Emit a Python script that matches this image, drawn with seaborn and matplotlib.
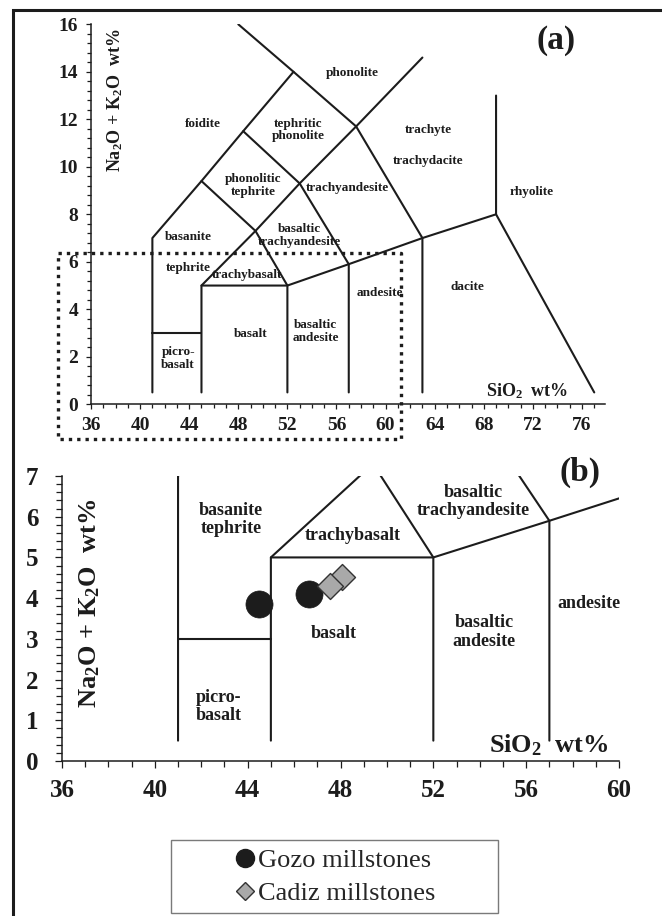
import matplotlib
matplotlib.use("Agg")
import matplotlib.pyplot as plt
import seaborn as sns
import pandas as pd
from matplotlib.lines import Line2D
from matplotlib.patches import Rectangle
from matplotlib.ticker import MultipleLocator

# ---------------- data ----------------
gozo_sio2 = [44.5, 46.65]
gozo_alk = [3.85, 4.10]
cadiz_sio2 = [48.05, 47.55]
cadiz_alk = [4.52, 4.30]
group_names = ["Gozo millstones", "Cadiz millstones"]

xticks_a = [36, 40, 44, 48, 52, 56, 60, 64, 68, 72, 76]
yticks_a = [0, 2, 4, 6, 8, 10, 12, 14, 16]
xticks_b = [36, 40, 44, 48, 52, 56, 60]
yticks_b = [0, 1, 2, 3, 4, 5, 6, 7]

# TAS field boundaries (SiO2, Na2O+K2O)
bound_A = [(41, 0.5), (41, 7), (45, 9.4), (48.4, 11.5), (52.5, 14)]
bound_B = [(48, 16), (52.5, 14), (57.6, 11.7), (63, 7), (63, 0.5)]
bound_C = [(45, 0.5), (45, 5), (49.4, 7.3), (53, 9.3), (57.6, 11.7), (63, 14.6)]
bound_D = [(45, 9.4), (49.4, 7.3), (52, 5), (52, 0.5)]
bound_E = [(48.4, 11.5), (53, 9.3), (57, 5.9), (57, 0.5)]
bound_F = [(41, 3), (45, 3)]
bound_G = [(45, 5), (52, 5), (57, 5.9), (63, 7), (69, 8), (69, 13)]
bound_H = [(69, 8), (77, 0.5)]
boundaries = [bound_A, bound_B, bound_C, bound_D, bound_E, bound_F, bound_G, bound_H]

# field names, panel (a)
names_a = ["foidite", "phonolite", "tephritic\nphonolite", "phonolitic\ntephrite",
           "trachyandesite", "trachyte", "trachydacite", "rhyolite",
           "basaltic\ntrachyandesite", "basanite", "tephrite", "trachybasalt",
           "basalt", "picro-\nbasalt", "basaltic\nandesite", "andesite", "dacite"]
names_a_x = [45.1, 57.3, 52.9, 49.2, 56.9, 63.5, 63.5, 71.9, 53.0, 43.9, 43.9, 48.7,
             49.0, 43.1, 54.3, 59.5, 66.7]
names_a_y = [11.8, 13.95, 11.55, 9.2, 9.1, 11.55, 10.25, 8.95, 7.12, 7.03, 5.75, 5.44,
             2.96, 1.94, 3.06, 4.67, 4.93]

# field names, panel (b)
names_b = ["basanite\ntephrite", "trachybasalt", "basaltic\ntrachyandesite", "basalt",
           "picro-\nbasalt", "basaltic\nandesite", "andesite"]
names_b_x = [43.28, 48.54, 53.73, 47.7, 42.74, 54.2, 58.69]
names_b_y = [5.93, 5.54, 6.38, 3.13, 1.33, 3.17, 3.87]

# ---------------- style ----------------
sns.set_theme(style="ticks")
plt.rcParams["font.family"] = ["Liberation Serif", "DejaVu Serif"]
plt.rcParams["font.weight"] = "bold"
plt.rcParams["mathtext.fontset"] = "custom"
plt.rcParams["mathtext.rm"] = "Liberation Serif:bold"
plt.rcParams["mathtext.it"] = "Liberation Serif:bold"
plt.rcParams["mathtext.bf"] = "Liberation Serif:bold"
plt.rcParams["mathtext.default"] = "rm"

INK = "#1c1c1c"
LW = 1.5

fig = plt.figure(figsize=(6.62, 9.16), dpi=100)
W, H = 662, 916
ax_a = fig.add_axes([91 / W, 1 - 404.3 / H, (605.3 - 91) / W, 380 / H])
ax_b = fig.add_axes([62 / W, 1 - 761 / H, 557 / W, 285 / H])


def draw_boundaries(ax):
    for poly in boundaries:
        df = pd.DataFrame(poly, columns=["sio2", "alk"])
        sns.lineplot(data=df, x="sio2", y="alk", sort=False, estimator=None,
                     color=INK, linewidth=LW, ax=ax, legend=False)


def style_axes(ax, xticks, yticks, xminor, yminor, fs, xpad, ypad, ticklen):
    ax.set_xticks(xticks)
    ax.set_yticks(yticks)
    ax.xaxis.set_minor_locator(MultipleLocator(xminor))
    ax.yaxis.set_minor_locator(MultipleLocator(yminor))
    for sp in ["top", "right"]:
        ax.spines[sp].set_visible(False)
    for sp in ["left", "bottom"]:
        ax.spines[sp].set_color(INK)
        ax.spines[sp].set_linewidth(1.1)
    ax.tick_params(axis="both", which="both", direction="out", color=INK, width=0.9)
    ax.tick_params(axis="both", which="major", length=ticklen)
    ax.tick_params(axis="both", which="minor", length=ticklen * 0.8)
    ax.tick_params(axis="x", which="major", labelsize=fs, pad=xpad)
    ax.tick_params(axis="y", which="major", labelsize=fs, pad=ypad)
    for lab in ax.get_xticklabels() + ax.get_yticklabels():
        lab.set_fontweight("bold")
        lab.set_color(INK)
    ax.set_xlabel("")
    ax.set_ylabel("")
    ax.set_facecolor("white")


# ---------- panel (a) ----------
draw_boundaries(ax_a)
ax_a.set_xlim(36, 77.9)
ax_a.set_ylim(0, 16)
style_axes(ax_a, xticks_a, yticks_a, 1, 0.4, 14, 5, 5.5, 3.8)
for t, x, y in zip(names_a, names_a_x, names_a_y):
    ax_a.text(x, y, t, ha="center", va="center", fontsize=9.5, fontweight="bold",
              color=INK, linespacing=1.1)
ax_a.text(74.9, 0.32, "SiO$_2$  wt%", ha="right", va="baseline", fontsize=13,
          fontweight="bold", color=INK)
ax_a.text(73.9, 15.3, "(a)", ha="center", va="center", fontsize=24,
          fontweight="bold", color=INK)
# dotted zoom frame
frame_x = [33.34, 61.24, 61.24, 33.34, 33.34]
frame_y = [6.38, 6.38, -1.47, -1.47, 6.38]
ax_a.plot(frame_x, frame_y, color=INK, linewidth=2.4, linestyle=(0, (1.0, 1.5)),
          dash_capstyle="butt", clip_on=False, zorder=5)
fig.text(115 / W, 1 - 100 / H, "Na$_2$O + K$_2$O  wt%", rotation=90, ha="center",
         va="center", fontsize=13, fontweight="bold", color=INK)

# ---------- panel (b) ----------
draw_boundaries(ax_b)
ax_b.set_xlim(36, 60)
ax_b.set_ylim(0, 7)
style_axes(ax_b, xticks_b, yticks_b, 1, 0.2, 18, 8, 12, 5)
for t, x, y in zip(names_b, names_b_x, names_b_y):
    ax_b.text(x, y, t, ha="center", va="center", fontsize=13, fontweight="bold",
              color=INK, linespacing=1.1)
ax_b.text(59.53, 0.2, "SiO$_2$  wt%", ha="right", va="baseline", fontsize=19,
          fontweight="bold", color=INK)
ax_b.text(58.3, 7.1, "(b)", ha="center", va="center", fontsize=24,
          fontweight="bold", color=INK, clip_on=False)
fig.text(90 / W, 1 - 603 / H, "Na$_2$O + K$_2$O  wt%", rotation=90, ha="center",
         va="center", fontsize=19, fontweight="bold", color=INK)

sns.scatterplot(x=gozo_sio2, y=gozo_alk, marker="o", s=380, color=INK,
                edgecolor=INK, linewidth=0.5, ax=ax_b, zorder=6, legend=False)
sns.scatterplot(x=cadiz_sio2, y=cadiz_alk, marker="D", s=175, color="#a9a9a9",
                edgecolor="#333333", linewidth=1.0, ax=ax_b, zorder=7, legend=False)
ax_b.set_xlabel("")
ax_b.set_ylabel("")

# ---------- legend ----------
handles = [
    Line2D([], [], marker="o", linestyle="none", markersize=13, markerfacecolor=INK,
           markeredgecolor=INK),
    Line2D([], [], marker="D", linestyle="none", markersize=9, markerfacecolor="#a9a9a9",
           markeredgecolor="#333333", markeredgewidth=1.0),
]
fig.legend(handles, group_names, loc="center", bbox_to_anchor=(334.5 / W, 1 - 877 / H),
           frameon=False, handletextpad=0.05, handlelength=0.9, labelspacing=0.35,
           prop={"family": "Liberation Serif", "size": 19, "weight": "normal"})
fig.add_artist(Rectangle((171 / W, 1 - 913 / H), 327 / W, 73 / H,
                         transform=fig.transFigure, fill=False, edgecolor="#7a7a7a",
                         linewidth=1.0))

# ---------- outer border ----------
fig.add_artist(Rectangle((12.5 / W, -0.05), 1.2, 1.05 - 10.5 / H,
                         transform=fig.transFigure, fill=False, edgecolor=INK,
                         linewidth=2.2, clip_on=False))

fig.savefig("out.png", dpi=100, facecolor="white")
